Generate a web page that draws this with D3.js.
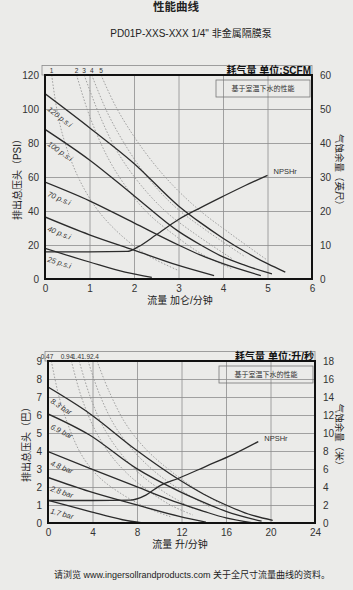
<!DOCTYPE html>
<html>
<head>
<meta charset="utf-8">
<script src="https://cdn.jsdelivr.net/npm/d3@7/dist/d3.min.js"></script>
<style>
    body { margin: 0; background: #ebebe9; }
    svg { display: block; font-family: "Liberation Sans", "Noto Sans CJK SC", sans-serif; }
</style>
</head>
<body>
<svg id="pump-chart" width="353" height="590"></svg>
<script>

// ---------- TOP CHART (US units) ----------
let top_x_ticks = [0, 1, 2, 3, 4, 5, 6]
let top_left_ticks = [0, 20, 40, 60, 80, 100, 120]
let top_right_ticks = [0, 10, 20, 30, 40, 50, 60]
let top_pressure_labels = ["120 p.s.i", "100 p.s.i", "70 p.s.i", "40 p.s.i", "25 p.s.i"]
let top_air_labels = ["1", "2", "3", "4", "5"]

// flow (gpm), head (psi)
let top_psi_120 = [[0, 109], [1, 89], [2, 68], [3, 43], [3.5, 33], [4, 24], [4.5, 16], [5, 9], [5.4, 4]]
let top_psi_100 = [[0, 88], [1, 70], [2, 49], [3, 28], [3.5, 20], [4, 13], [4.5, 8], [5.1, 3]]
let top_psi_70 = [[0, 57], [1, 46], [2, 33], [3, 20], [3.5, 14], [4, 9], [4.85, 2]]
let top_psi_40 = [[0, 36.5], [1, 26], [2, 17], [3, 8], [3.8, 2]]
let top_psi_25 = [[0, 18], [1, 10], [1.8, 4], [2.4, 1]]

// flow (gpm), NPSHr (ft)
let top_npshr = [[0, 8], [1, 8], [1.85, 8.1], [2.1, 9.5], [2.5, 13], [3, 17.5], [3.5, 21], [4, 24.3], [4.5, 27.5], [5, 30.5]]

// air consumption (SCFM), flow (gpm), head (psi)
let top_air_1 = [[0.15, 120], [0.3, 95], [0.5, 76], [0.8, 57], [1.2, 40], [1.7, 26], [2.3, 14], [3, 5]]
let top_air_2 = [[0.71, 120], [1.0, 96], [1.4, 72], [1.8, 55], [2.3, 39], [2.9, 26], [3.5, 15], [4.2, 6]]
let top_air_3 = [[0.88, 120], [1.2, 98], [1.6, 76], [2.1, 57], [2.7, 40], [3.4, 26], [4.2, 12]]
let top_air_4 = [[1.05, 120], [1.4, 98], [1.8, 79], [2.3, 60], [2.9, 43], [3.6, 29], [4.5, 13]]
let top_air_5 = [[1.26, 120], [1.6, 101], [2.1, 80], [2.7, 60], [3.4, 42], [4.2, 26], [5, 11]]

// ---------- BOTTOM CHART (metric) ----------
let bot_x_ticks = [0, 4, 8, 12, 16, 20, 24]
let bot_left_ticks = [0, 1, 2, 3, 4, 5, 6, 7, 8, 9]
let bot_right_ticks = [0, 2, 4, 6, 8, 10, 12, 14, 16, 18]
let bot_pressure_labels = ["8.3 bar", "6.9 bar", "4.8 bar", "2.8 bar", "1.7 bar"]
let bot_air_labels = ["0.47", "0.94", "1.4", "1.9", "2.4"]

// flow (l/min), head (bar)
let bot_bar_83 = [[0, 7.55], [3.7, 6.1], [7.9, 4.07], [11.8, 2.4], [14, 1.6], [16, 1.0], [18, 0.5], [20.2, 0.15]]
let bot_bar_69 = [[0, 6.06], [3.7, 4.9], [7.9, 3.05], [11.8, 1.76], [14, 1.15], [16, 0.65], [19.2, 0.1]]
let bot_bar_48 = [[0, 3.97], [3.7, 3.05], [7.9, 2.03], [11.8, 1.1], [14, 0.65], [16, 0.28], [18.3, 0.02]]
let bot_bar_28 = [[0, 2.53], [3.7, 1.76], [7.9, 1.02], [11.8, 0.37], [14.2, 0.05]]
let bot_bar_17 = [[0, 1.26], [3.7, 0.65], [6.7, 0.18], [8.5, 0.01]]

// flow (l/min), NPSHr (m)
let bot_npshr = [[0, 2.5], [4, 2.5], [7.4, 2.55], [8.8, 3.1], [10, 4.1], [11.8, 5.0], [14.2, 6.3], [16.6, 7.6], [18.9, 9.05]]

// air consumption (l/s), flow (l/min), head (bar)
let bot_air_1 = [[0.3, 9], [1.0, 7], [1.9, 5.3], [3, 3.8], [4.5, 2.6], [6.4, 1.7], [8.7, 0.9], [11, 0.35]]
let bot_air_2 = [[2.1, 9], [3, 7], [4.2, 5.2], [5.6, 3.8], [7.2, 2.7], [9, 1.8], [11, 1.0], [13, 0.45]]
let bot_air_3 = [[2.8, 9], [3.8, 7], [5, 5.3], [6.5, 3.9], [8.3, 2.7], [10.5, 1.7], [13, 0.8]]
let bot_air_4 = [[3.6, 9], [4.6, 7.2], [6, 5.4], [7.7, 4], [9.7, 2.8], [12, 1.8], [14.5, 0.9]]
let bot_air_5 = [[4.4, 9], [5.5, 7.3], [7, 5.5], [8.8, 4.1], [11, 2.9], [13.5, 1.8], [16, 0.9]]


let svg = d3.select('#pump-chart')

function draw_panel(p) {

    let x = d3.scaleLinear().domain([p.x_ticks[0], p.x_ticks[p.x_ticks.length - 1]]).range([p.left, p.right])
    let y = d3.scaleLinear().domain([0, p.left_ticks[p.left_ticks.length - 1]]).range([p.bottom, p.top])
    let yr = d3.scaleLinear().domain([0, p.right_ticks[p.right_ticks.length - 1]]).range([p.bottom, p.top])
    let height = p.bottom - p.top

    // STRIP ABOVE THE FRAME
    svg.append('rect')
        .attr('x', p.left - 3)
        .attr('y', p.top - 9.5)
        .attr('width', p.right - p.left + 3)
        .attr('height', 9.5)
        .attr('fill', 'none')
        .attr('stroke', '#8a8a8a')
        .attr('stroke-width', 0.8)

    // GRID
    svg.append('g')
        .attr('transform', `translate(0, ${p.bottom})`)
        .call(d3.axisBottom(x).tickValues(p.x_ticks.slice(1, -1)).tickSize(-height).tickFormat(''))
        .call(g => g.select('.domain').remove())
        .selectAll('line').attr('stroke', '#8d8d8d').attr('stroke-width', 0.8)

    svg.append('g')
        .attr('transform', `translate(${p.left}, 0)`)
        .call(d3.axisLeft(y).tickValues(p.left_ticks.slice(1, -1)).tickSize(-(p.right - p.left)).tickFormat(''))
        .call(g => g.select('.domain').remove())
        .selectAll('line').attr('stroke', '#8d8d8d').attr('stroke-width', 0.8)

    // X-AXIS TICKS
    svg.append('g')
        .attr('transform', `translate(0, ${p.bottom})`)
        .call(d3.axisBottom(x).tickValues(p.x_ticks).tickSize(0).tickPadding(6).tickFormat(d3.format('d')))
        .call(g => g.select('.domain').remove())
        .selectAll('text').attr('fill', '#333').attr('font-size', 10)

    // Y-AXIS TICKS LEFT
    svg.append('g')
        .attr('transform', `translate(${p.left}, 0)`)
        .call(d3.axisLeft(y).tickValues(p.left_ticks).tickSize(0).tickPadding(p.left_pad).tickFormat(d3.format('d')))
        .call(g => g.select('.domain').remove())
        .selectAll('text').attr('fill', '#333').attr('font-size', 10)

    // Y-AXIS TICKS RIGHT
    svg.append('g')
        .attr('transform', `translate(${p.right}, 0)`)
        .call(d3.axisRight(yr).tickValues(p.right_ticks).tickSize(0).tickPadding(8).tickFormat(d3.format('d')))
        .call(g => g.select('.domain').remove())
        .selectAll('text').attr('fill', '#333').attr('font-size', 10)

    // CLIP
    svg.append('clipPath').attr('id', p.id + '-clip')
        .append('rect')
        .attr('x', p.left).attr('y', p.top)
        .attr('width', p.right - p.left).attr('height', height)

    let plot = svg.append('g').attr('clip-path', `url(#${p.id}-clip)`)

    // AIR CONSUMPTION CURVES (dotted)
    let air_line = d3.line().x(d => x(d[0])).y(d => y(d[1])).curve(d3.curveCatmullRom)
    plot.selectAll('.air')
        .data(p.air)
        .enter()
        .append('path')
            .attr('d', air_line)
            .attr('fill', 'none')
            .attr('stroke', '#8f8f8f')
            .attr('stroke-width', 0.8)
            .attr('stroke-dasharray', '1.6,1.6')

    // PERFORMANCE CURVES
    let perf_line = d3.line().x(d => x(d[0])).y(d => y(d[1])).curve(d3.curveMonotoneX)
    plot.selectAll('.perf')
        .data(p.curves)
        .enter()
        .append('path')
            .attr('d', perf_line)
            .attr('fill', 'none')
            .attr('stroke', '#2b2b2b')
            .attr('stroke-width', 1.3)

    // NPSHr (right axis)
    let npsh_line = d3.line().x(d => x(d[0])).y(d => yr(d[1])).curve(d3.curveMonotoneX)
    plot.append('path')
        .datum(p.npshr)
        .attr('d', npsh_line)
        .attr('fill', 'none')
        .attr('stroke', '#2b2b2b')
        .attr('stroke-width', 1.3)

    let npsh_end = p.npshr[p.npshr.length - 1]
    svg.append('text')
        .attr('x', x(npsh_end[0]) + 6)
        .attr('y', yr(npsh_end[1]) - 1)
        .attr('fill', '#333')
        .attr('font-size', 7.5)
        .text('NPSHr')

    // CURVE LABELS
    p.curves.forEach((c, i) => {
        let x0 = x(c[0][0]), y0 = y(c[0][1])
        let x1 = x(c[1][0]), y1 = y(c[1][1])
        let angle = Math.atan2(y1 - y0, x1 - x0)
        let lx = x0 + 2
        let ly = y0 + (y1 - y0) * 2 / (x1 - x0) + 12 / Math.cos(angle)
        svg.append('text')
            .attr('transform', `translate(${lx}, ${ly}) rotate(${angle * 180 / Math.PI})`)
            .attr('fill', '#333')
            .attr('font-size', 7.5)
            .attr('font-style', 'italic')
            .text(p.pressure_labels[i])
    })

    // AIR LABELS IN THE STRIP
    p.air.forEach((c, i) => {
        svg.append('text')
            .attr('x', x(c[0][0]) + p.air_dx)
            .attr('y', p.top - 2)
            .attr('text-anchor', p.air_anchor)
            .attr('fill', '#333')
            .attr('font-size', 6.5)
            .text(p.air_labels[i])
    })

    // AIR UNIT TITLE
    svg.append('text')
        .attr('x', p.right - 1)
        .attr('y', p.top - 1.5)
        .attr('text-anchor', 'end')
        .attr('fill', '#111')
        .attr('font-size', 10)
        .attr('font-weight', 'bold')
        .text(p.air_title)

    // NOTE BOX
    svg.append('rect')
        .attr('x', p.right - 96)
        .attr('y', p.top + 5)
        .attr('width', 94)
        .attr('height', 17)
        .attr('fill', 'none')
        .attr('stroke', '#777')
        .attr('stroke-width', 0.8)
    svg.append('text')
        .attr('x', p.right - 49)
        .attr('y', p.top + 16)
        .attr('text-anchor', 'middle')
        .attr('fill', '#333')
        .attr('font-size', 7)
        .text('基于室温下水的性能')

    // FRAME
    svg.append('rect')
        .attr('x', p.left)
        .attr('y', p.top)
        .attr('width', p.right - p.left)
        .attr('height', height)
        .attr('fill', 'none')
        .attr('stroke', '#111')
        .attr('stroke-width', 2)

    // X AXIS LABEL
    svg.append('text')
        .attr('x', 180)
        .attr('y', p.bottom + 25)
        .attr('text-anchor', 'middle')
        .attr('fill', '#222')
        .attr('font-size', 10)
        .text(p.x_title)

    // Y AXIS LABELS
    svg.append('text')
        .attr('transform', `translate(${p.left_title_x}, ${(p.top + p.bottom) / 2}) rotate(-90)`)
        .attr('text-anchor', 'middle')
        .attr('fill', '#222')
        .attr('font-size', 10)
        .text(p.left_title)

    svg.append('text')
        .attr('transform', `translate(336, ${(p.top + p.bottom) / 2 - 5}) rotate(90)`)
        .attr('text-anchor', 'middle')
        .attr('fill', '#222')
        .attr('font-size', 9.5)
        .text(p.right_title)
}

// GRAPH TITLE
svg.append('text')
    .attr('x', 176).attr('y', 11)
    .attr('text-anchor', 'middle')
    .attr('fill', '#222')
    .attr('font-size', 11.5)
    .attr('font-weight', 'bold')
    .text('性能曲线')

svg.append('text')
    .attr('x', 191).attr('y', 37)
    .attr('text-anchor', 'middle')
    .attr('fill', '#222')
    .attr('font-size', 10)
    .text('PD01P-XXS-XXX 1/4" 非金属隔膜泵')

draw_panel({
    id: 'us', left: 45, right: 312, top: 75, bottom: 279,
    x_ticks: top_x_ticks, left_ticks: top_left_ticks, right_ticks: top_right_ticks,
    curves: [top_psi_120, top_psi_100, top_psi_70, top_psi_40, top_psi_25],
    pressure_labels: top_pressure_labels,
    npshr: top_npshr,
    air: [top_air_1, top_air_2, top_air_3, top_air_4, top_air_5],
    air_labels: top_air_labels, air_anchor: 'middle', air_dx: 0,
    air_title: '耗气量 单位:SCFM',
    x_title: '流量 加仑/分钟',
    left_title: '排出总压头（PSI）', left_title_x: 21, left_pad: 6,
    right_title: '气蚀余量（英尺）'
})

draw_panel({
    id: 'metric', left: 48, right: 315, top: 361, bottom: 523,
    x_ticks: bot_x_ticks, left_ticks: bot_left_ticks, right_ticks: bot_right_ticks,
    curves: [bot_bar_83, bot_bar_69, bot_bar_48, bot_bar_28, bot_bar_17],
    pressure_labels: bot_pressure_labels,
    npshr: bot_npshr,
    air: [bot_air_1, bot_air_2, bot_air_3, bot_air_4, bot_air_5],
    air_labels: bot_air_labels, air_anchor: 'end', air_dx: 2,
    air_title: '耗气量 单位:升/秒',
    x_title: '流量 升/分钟',
    left_title: '排出总压头（巴）', left_title_x: 30, left_pad: 6,
    right_title: '气蚀余量（米）'
})

// FOOTER
svg.append('text')
    .attr('x', 192).attr('y', 578)
    .attr('text-anchor', 'middle')
    .attr('fill', '#222')
    .attr('font-size', 9)
    .text('请浏览 www.ingersollrandproducts.com 关于全尺寸流量曲线的资料。')

</script>
</body>
</html>
